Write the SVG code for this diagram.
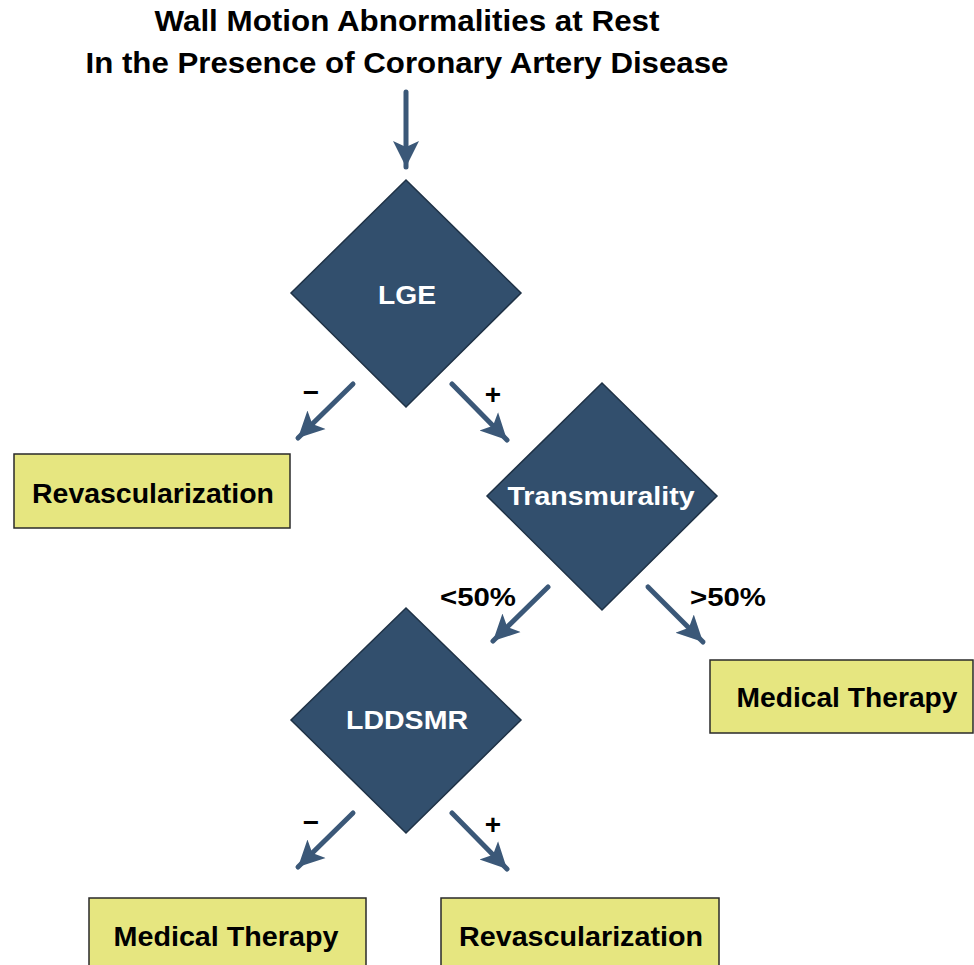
<svg xmlns="http://www.w3.org/2000/svg" width="974" height="965" viewBox="0 0 974 965">
<style>
.title{font-family:"Liberation Sans",Arial,sans-serif;font-weight:bold;font-size:29px;fill:#000;text-anchor:middle}
.dia{fill:#324f6d;stroke:#1f3246;stroke-width:1.5}
.dtxt{font-family:"Liberation Sans",Arial,sans-serif;font-weight:bold;font-size:26px;fill:#fff;text-anchor:middle}
.box{fill:#e6e680;stroke:#2a2a2a;stroke-width:1.5}
.btxt{font-family:"Liberation Sans",Arial,sans-serif;font-weight:bold;font-size:27px;fill:#000;text-anchor:middle}
.lbl{font-family:"Liberation Sans",Arial,sans-serif;font-weight:bold;font-size:25px;fill:#000;text-anchor:middle}
.pm{font-family:"Liberation Sans",Arial,sans-serif;font-weight:bold;font-size:28px;fill:#000;text-anchor:middle}
.arr{stroke:#3b5878;stroke-width:5;fill:none;stroke-linecap:round}
</style>
<defs>
<marker id="ah" markerUnits="userSpaceOnUse" markerWidth="28" markerHeight="28" viewBox="0 0 28 28" refX="26" refY="14" orient="auto">
<path d="M0,1 L26,14 L0,27 L6,14 Z" fill="#3b5878"/>
</marker>
</defs>
<rect width="974" height="965" fill="#fff"/>
<g id="title">
<text class="title" x="407" y="31" textLength="505" lengthAdjust="spacingAndGlyphs">Wall Motion Abnormalities at Rest</text>
<text class="title" x="407" y="73" textLength="643" lengthAdjust="spacingAndGlyphs">In the Presence of Coronary Artery Disease</text>
</g>
<g id="connectors">
<line class="arr" x1="406" y1="92" x2="406" y2="167" marker-end="url(#ah)"/>
<line class="arr" x1="353" y1="384" x2="298" y2="438" marker-end="url(#ah)"/>
<line class="arr" x1="452" y1="384" x2="507" y2="440" marker-end="url(#ah)"/>
<line class="arr" x1="548" y1="587" x2="493" y2="641" marker-end="url(#ah)"/>
<line class="arr" x1="648" y1="587" x2="703" y2="642" marker-end="url(#ah)"/>
<line class="arr" x1="353" y1="813" x2="298" y2="867" marker-end="url(#ah)"/>
<line class="arr" x1="452" y1="813" x2="507" y2="869" marker-end="url(#ah)"/>
<text class="pm" x="311" y="402">−</text>
<text class="pm" x="493" y="404">+</text>
<text class="lbl" x="478" y="606" textLength="76" lengthAdjust="spacingAndGlyphs">&lt;50%</text>
<text class="lbl" x="728" y="606" textLength="76" lengthAdjust="spacingAndGlyphs">&gt;50%</text>
<text class="pm" x="311" y="832">−</text>
<text class="pm" x="493" y="834">+</text>
</g>
<g id="lge">
<polygon class="dia" points="406,180 521,293 406,407 291,293"/>
<text class="dtxt" x="407" y="304" textLength="58" lengthAdjust="spacingAndGlyphs">LGE</text>
</g>
<g id="transmurality">
<polygon class="dia" points="602,383 717,496 602,610 487,496"/>
<text class="dtxt" x="601" y="505" textLength="187" lengthAdjust="spacingAndGlyphs">Transmurality</text>
</g>
<g id="lddsmr">
<polygon class="dia" points="406,608 521,720 406,833 291,720"/>
<text class="dtxt" x="407" y="729" textLength="122" lengthAdjust="spacingAndGlyphs">LDDSMR</text>
</g>
<g id="revasc1">
<rect class="box" x="14" y="454" width="276" height="74"/>
<text class="btxt" x="153" y="503" textLength="242" lengthAdjust="spacingAndGlyphs">Revascularization</text>
</g>
<g id="medical1">
<rect class="box" x="710" y="660" width="263" height="73"/>
<text class="btxt" x="847" y="707" textLength="221" lengthAdjust="spacingAndGlyphs">Medical Therapy</text>
</g>
<g id="medical2">
<rect class="box" x="89" y="898" width="277" height="74"/>
<text class="btxt" x="226" y="946" textLength="225" lengthAdjust="spacingAndGlyphs">Medical Therapy</text>
</g>
<g id="revasc2">
<rect class="box" x="441" y="898" width="278" height="74"/>
<text class="btxt" x="581" y="946" textLength="244" lengthAdjust="spacingAndGlyphs">Revascularization</text>
</g>
</svg>
